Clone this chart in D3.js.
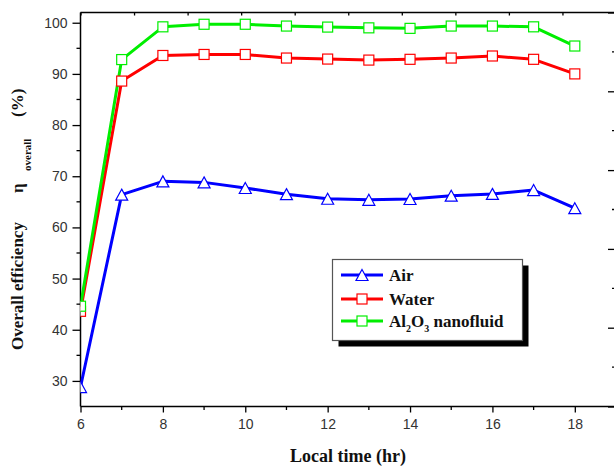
<!DOCTYPE html>
<html>
<head>
<meta charset="utf-8">
<script src="https://cdn.jsdelivr.net/npm/d3@7"></script>
<style>
  html, body { margin: 0; padding: 0; background: #fff; }
  svg { display: block; }
</style>
</head>
<body>
<svg id="chart" width="614" height="467"></svg>
<script>
// Local time of day (hr)
const hours = [6, 7, 8, 9, 10, 11, 12, 13, 14, 15, 16, 17, 18];
// Overall efficiency (%) for each working fluid
const airEff   = [28.8, 66.4, 69.0, 68.8, 67.7, 66.5, 65.6, 65.4, 65.55, 66.2, 66.55, 67.3, 63.75];
const waterEff = [43.6, 88.6, 93.6, 93.8, 93.8, 93.1, 92.9, 92.7, 92.85, 93.1, 93.5, 92.85, 90.0];
const nanoEff  = [44.6, 92.8, 99.2, 99.7, 99.7, 99.35, 99.15, 99.0, 98.9, 99.35, 99.35, 99.2, 95.45];

const xTickLabels = [6, 8, 10, 12, 14, 16, 18];
const xMinorTicks = [7, 9, 11, 13, 15, 17];
const yTickLabels = [30, 40, 50, 60, 70, 80, 90, 100];
const yMinorTicks = [35, 45, 55, 65, 75, 85, 95];

const svg = d3.select("#chart");
const plotLeft = 80.5, plotRight = 616, plotTop = 12.5, plotBottom = 406.5;

const x = d3.scaleLinear().domain([6, 19]).range([plotLeft, plotRight]);
const y = d3.scaleLinear().domain([25, 102]).range([plotBottom, plotTop]);
// secondary (empty) layer axes on top and right
const x2 = d3.scaleLinear().domain([0, 10]).range([plotLeft, plotRight]);
const y2 = d3.scaleLinear().domain([0, 5]).range([plotBottom, plotTop]);

const tickFont = "'Liberation Sans', Arial, sans-serif";
const titleFont = "'Liberation Serif', 'Times New Roman', serif";

// clip region for the data
svg.append("defs").append("clipPath").attr("id", "plotClip")
  .append("rect").attr("x", plotLeft).attr("y", plotTop)
  .attr("width", plotRight - plotLeft).attr("height", plotBottom - plotTop);

// bottom axis
const xAxis = d3.axisBottom(x).tickValues(xTickLabels).tickSize(6).tickPadding(7).tickFormat(d3.format("d"));
const gx = svg.append("g").attr("transform", `translate(0,${plotBottom})`).call(xAxis);
gx.append("g").selectAll("line").data(xMinorTicks).join("line")
  .attr("x1", d => x(d)).attr("x2", d => x(d)).attr("y1", 0).attr("y2", 3.5)
  .attr("stroke", "#000").attr("stroke-width", 1.3);

// left axis
const yAxis = d3.axisLeft(y).tickValues(yTickLabels).tickSize(8).tickPadding(5).tickFormat(d3.format("d"));
const gy = svg.append("g").attr("transform", `translate(${plotLeft},0)`).call(yAxis);
gy.append("g").selectAll("line").data(yMinorTicks).join("line")
  .attr("x1", 0).attr("x2", -4).attr("y1", d => y(d)).attr("y2", d => y(d))
  .attr("stroke", "#000").attr("stroke-width", 1.3);

// top axis (inward ticks, no labels)
const gt = svg.append("g").attr("transform", `translate(0,${plotTop})`)
  .call(d3.axisBottom(x2).ticks(10).tickSize(3).tickFormat(""));
// right axis (inward ticks, no labels)
const gr = svg.append("g").attr("transform", `translate(${plotRight},0)`)
  .call(d3.axisLeft(y2).ticks(5).tickSize(8).tickFormat(""));
gr.append("g").selectAll("line").data(d3.range(0.5, 5, 1)).join("line")
  .attr("x1", 0).attr("x2", -4).attr("y1", d => y2(d)).attr("y2", d => y2(d))
  .attr("stroke", "#000").attr("stroke-width", 1.3);

[gx, gy, gt, gr].forEach(g => {
  g.select(".domain").attr("stroke", "#000").attr("stroke-width", 1.5);
  g.selectAll(".tick line").attr("stroke", "#000").attr("stroke-width", 1.3);
  g.selectAll(".tick text").attr("font-family", tickFont).attr("font-size", 14).attr("fill", "#333");
});
gt.select(".domain").attr("d", `M${plotLeft},0H${plotRight}`);
gr.select(".domain").attr("d", `M0,${plotBottom}V${plotTop}`);
gx.select(".domain").attr("d", `M${plotLeft},0H${plotRight}`);
gy.select(".domain").attr("d", `M0,${plotBottom}V${plotTop}`);

// series
const series = [
  { name: "Air", values: airEff, color: "#0000ff", marker: "triangle" },
  { name: "Water", values: waterEff, color: "#ff0000", marker: "square" },
  { name: "Al2O3", values: nanoEff, color: "#00ee00", marker: "square" }
];

const line = d3.line().x(d => x(d[0])).y(d => y(d[1]));
const triPath = "M0,-5.5L6,5.5L-6,5.5Z";

function drawMarker(g, shape, color) {
  if (shape === "square") {
    g.append("rect").attr("x", -5).attr("y", -5).attr("width", 10).attr("height", 10)
      .attr("fill", "#fff").attr("stroke", color).attr("stroke-width", 1.2);
  } else {
    g.append("path").attr("d", triPath)
      .attr("fill", "#fff").attr("stroke", color).attr("stroke-width", 1.2);
  }
}

const plot = svg.append("g").attr("clip-path", "url(#plotClip)");
series.forEach(s => {
  const pts = hours.map((h, i) => [h, s.values[i]]);
  plot.append("path").datum(pts).attr("d", line)
    .attr("fill", "none").attr("stroke", s.color).attr("stroke-width", 3)
    .attr("stroke-linejoin", "round");
});
series.forEach(s => {
  hours.forEach((h, i) => {
    const g = plot.append("g").attr("transform", `translate(${x(h)},${y(s.values[i])})`);
    drawMarker(g, s.marker, s.color);
  });
});

// legend
const lg = svg.append("g");
lg.append("rect").attr("x", 338.5).attr("y", 265.5).attr("width", 190).attr("height", 81).attr("fill", "#000");
lg.append("rect").attr("x", 332.5).attr("y", 259.5).attr("width", 190).attr("height", 81)
  .attr("fill", "#fff").attr("stroke", "#555").attr("stroke-width", 1.2);
const rowsY = [275, 299, 321];
series.forEach((s, i) => {
  const ry = rowsY[i];
  lg.append("line").attr("x1", 341).attr("x2", 383).attr("y1", ry).attr("y2", ry)
    .attr("stroke", s.color).attr("stroke-width", 3);
  drawMarker(lg.append("g").attr("transform", `translate(362,${ry})`), s.marker, s.color);
  const t = lg.append("text").attr("x", 389).attr("y", ry + 6)
    .attr("font-family", titleFont).attr("font-weight", "bold").attr("font-size", 17).attr("fill", "#111");
  if (s.name === "Al2O3") {
    t.append("tspan").text("Al");
    t.append("tspan").attr("font-size", 10).attr("dy", 5).text("2");
    t.append("tspan").attr("dy", -5).text("O");
    t.append("tspan").attr("font-size", 10).attr("dy", 5).text("3");
    t.append("tspan").attr("dy", -5).text(" nanofluid");
  } else {
    t.text(s.name);
  }
});

// x axis title
svg.append("text").attr("x", 348).attr("y", 462).attr("text-anchor", "middle")
  .attr("font-family", titleFont).attr("font-weight", "bold").attr("font-size", 18).attr("fill", "#111")
  .text("Local time (hr)");

// y axis title
const yt = svg.append("text").attr("transform", "translate(23,350) rotate(-90)")
  .attr("font-family", titleFont).attr("font-weight", "bold").attr("font-size", 17).attr("fill", "#111");
yt.append("tspan").attr("x", 0).text("Overall efficiency");
yt.append("tspan").attr("x", 157).text("η");
yt.append("tspan").attr("font-size", 11).attr("dy", 8).attr("x", 179).text("overall");
yt.append("tspan").attr("dy", -8).attr("x", 233).text("(%)");
</script>
</body>
</html>
